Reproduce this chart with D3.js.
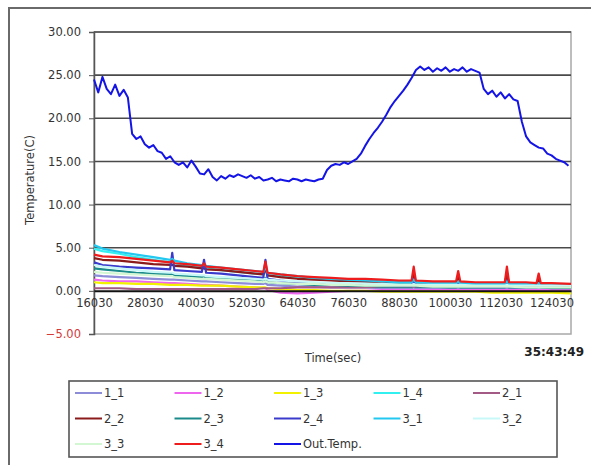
<!DOCTYPE html>
<html>
<head>
<meta charset="utf-8">
<script src="https://cdn.jsdelivr.net/npm/d3@7"></script>
<style>
  body { margin: 0; background: #fff; }
  svg { display: block; font-family: "DejaVu Sans", sans-serif; }
</style>
</head>
<body>
<div id="chart"></div>
<script>
// x tick labels (seconds)
const xTicks = [16030, 28030, 40030, 52030, 64030, 76030, 88030, 100030, 112030, 124030];
const yTicks = [-5, 0, 5, 10, 15, 20, 25, 30];
const totalTime = '35:43:49';

// outside temperature, sampled every 1000 s from 16030
const outTemp = [
  24.5, 23.0, 24.8, 23.4, 22.8, 23.9, 22.6, 23.3, 22.4, 18.2,
  17.6, 17.9, 17.0, 16.6, 16.9, 16.2, 16.0, 15.3, 15.6, 14.9,
  14.6, 14.9, 14.3, 15.1, 14.4, 13.6, 13.5, 14.1, 13.2, 12.8,
  13.3, 13.0, 13.4, 13.2, 13.5, 13.3, 13.1, 13.4, 13.0, 13.2,
  12.8, 12.9, 13.1, 12.7, 12.9, 12.8, 12.7, 13.0, 12.9, 12.7,
  12.9, 12.8, 12.7, 12.9, 13.0, 14.0, 14.5, 14.7, 14.6, 14.9,
  14.7, 15.0, 15.3, 15.9, 16.8, 17.6, 18.3, 18.9, 19.6, 20.4,
  21.3, 22.0, 22.6, 23.2, 23.9, 24.7, 25.6, 26.0, 25.6, 25.9,
  25.4, 25.8, 25.5, 25.9, 25.4, 25.7, 25.5, 25.9, 25.4, 25.7,
  25.5, 25.3, 23.4, 22.8, 23.2, 22.5, 23.0, 22.3, 22.8, 22.2,
  22.0, 19.6, 17.9, 17.2, 16.9, 16.6, 16.5, 15.9, 15.7, 15.3,
  15.1, 14.9, 14.5
];
const outStep = 1000;

// sampling times for the room sensors
const lowTime = [
  16030, 18030, 22030, 26030, 30030, 34000, 34500, 35000, 38030, 41500,
  42000, 42500, 46030, 50030, 54030, 56000, 56500, 57000, 60030, 64030,
  68030, 72030, 76030, 80030, 84030, 88030, 91000, 91500, 92000, 96030,
  100030, 101500, 102000, 102500, 106030, 110030, 113000, 113500, 114000, 118030,
  120500, 121000, 121500, 124030, 128630
];

const s1_1 = [1.8, 1.7, 1.6, 1.5, 1.4, 1.3, 1.3, 1.3, 1.2, 1.1, 1.1, 1.1, 1.0, 0.9, 0.8, 0.8, 0.9, 0.7, 0.6, 0.5, 0.5, 0.4, 0.4, 0.4, 0.3, 0.3, 0.3, 0.4, 0.3, 0.3, 0.3, 0.3, 0.3, 0.3, 0.3, 0.2, 0.2, 0.3, 0.2, 0.2, 0.2, 0.2, 0.2, 0.2, 0.2];
const s1_2 = [1.3, 1.2, 1.1, 1.1, 1.0, 0.9, 0.9, 0.9, 0.8, 0.7, 0.7, 0.7, 0.6, 0.5, 0.4, 0.3, 0.3, 0.1, -0.2, -0.3, -0.2, -0.1, 0.0, 0.0, 0.1, 0.1, 0.1, 0.1, 0.1, 0.1, 0.1, 0.1, 0.1, 0.1, 0.1, 0.1, 0.1, 0.1, 0.1, 0.1, 0.1, 0.1, 0.1, 0.1, 0.1];
const s1_3 = [1.0, 0.9, 0.9, 0.8, 0.8, 0.7, 0.7, 0.7, 0.7, 0.6, 0.6, 0.6, 0.6, 0.5, 0.4, 0.4, 0.4, 0.3, 0.2, 0.1, 0.1, 0.0, 0.0, 0.0, -0.1, -0.1, -0.1, -0.1, -0.1, -0.1, -0.1, -0.1, -0.1, -0.1, -0.1, -0.2, -0.2, -0.2, -0.2, -0.2, -0.2, -0.2, -0.2, -0.2, -0.3];
const s1_4 = [4.9, 4.6, 4.3, 3.9, 3.6, 3.3, 3.4, 3.2, 2.9, 2.7, 2.8, 2.6, 2.4, 2.2, 2.0, 1.9, 2.4, 1.8, 1.7, 1.5, 1.4, 1.3, 1.2, 1.1, 1.0, 0.9, 0.9, 1.2, 0.9, 0.8, 0.8, 0.8, 1.0, 0.8, 0.7, 0.7, 0.7, 1.0, 0.7, 0.7, 0.6, 0.8, 0.6, 0.6, 0.6];
const s2_1 = [0.3, 0.3, 0.3, 0.2, 0.2, 0.2, 0.2, 0.2, 0.2, 0.2, 0.2, 0.2, 0.2, 0.2, 0.2, 0.3, 0.3, 0.3, 0.3, 0.4, 0.4, 0.4, 0.4, 0.4, 0.5, 0.5, 0.5, 0.5, 0.5, 0.5, 0.5, 0.5, 0.5, 0.5, 0.5, 0.5, 0.5, 0.5, 0.5, 0.5, 0.5, 0.5, 0.5, 0.5, 0.5];
const s2_2 = [3.8, 3.6, 3.5, 3.3, 3.1, 3.0, 3.0, 2.9, 2.8, 2.6, 2.6, 2.5, 2.4, 2.2, 2.0, 1.9, 2.6, 1.8, 1.6, 1.4, 1.3, 1.2, 1.1, 1.1, 1.0, 1.0, 1.0, 2.0, 1.0, 0.9, 0.9, 0.9, 1.6, 0.9, 0.8, 0.8, 0.8, 2.0, 0.8, 0.8, 0.7, 1.3, 0.7, 0.7, 0.7];
const s2_3 = [2.6, 2.5, 2.3, 2.1, 2.0, 1.9, 2.0, 1.8, 1.7, 1.6, 1.7, 1.5, 1.4, 1.3, 1.2, 1.1, 1.5, 1.0, 0.9, 0.8, 0.7, 0.7, 0.6, 0.6, 0.5, 0.5, 0.5, 0.7, 0.5, 0.5, 0.4, 0.4, 0.6, 0.4, 0.4, 0.4, 0.4, 0.6, 0.4, 0.4, 0.4, 0.5, 0.4, 0.3, 0.3];
const s2_4 = [3.3, 3.0, 2.8, 2.7, 2.6, 2.5, 4.4, 2.4, 2.3, 2.2, 3.6, 2.1, 2.0, 1.8, 1.6, 1.5, 3.6, 1.4, 1.2, 1.0, 0.9, 0.8, 0.7, 0.7, 0.7, 0.6, 0.6, 1.4, 0.6, 0.6, 0.6, 0.6, 1.0, 0.6, 0.5, 0.5, 0.5, 1.2, 0.5, 0.5, 0.5, 0.8, 0.5, 0.5, 0.5];
const s3_1 = [5.3, 4.9, 4.5, 4.2, 3.9, 3.6, 3.7, 3.5, 3.2, 3.0, 3.1, 2.9, 2.7, 2.5, 2.3, 2.2, 2.8, 2.1, 1.9, 1.7, 1.5, 1.4, 1.3, 1.2, 1.1, 1.0, 1.0, 1.3, 1.0, 0.9, 0.9, 0.9, 1.1, 0.9, 0.8, 0.8, 0.8, 1.1, 0.8, 0.8, 0.7, 0.9, 0.7, 0.7, 0.7];
const s3_2 = [3.0, 2.8, 2.6, 2.4, 2.2, 2.1, 2.1, 2.0, 1.9, 1.8, 1.8, 1.7, 1.6, 1.5, 1.4, 1.3, 1.4, 1.3, 1.2, 1.1, 1.0, 0.9, 0.9, 0.8, 0.8, 0.7, 0.7, 0.8, 0.7, 0.7, 0.7, 0.7, 0.7, 0.7, 0.6, 0.6, 0.6, 0.7, 0.6, 0.6, 0.6, 0.6, 0.6, 0.6, 0.6];
const s3_3 = [2.2, 2.1, 2.0, 1.9, 1.8, 1.7, 1.7, 1.6, 1.5, 1.4, 1.4, 1.4, 1.3, 1.2, 1.1, 1.0, 1.1, 1.0, 0.9, 0.8, 0.8, 0.7, 0.7, 0.6, 0.6, 0.6, 0.6, 0.6, 0.6, 0.5, 0.5, 0.5, 0.5, 0.5, 0.5, 0.5, 0.5, 0.5, 0.5, 0.4, 0.4, 0.4, 0.4, 0.4, 0.4];
const s3_4 = [4.2, 4.0, 3.9, 3.7, 3.5, 3.3, 3.5, 3.2, 3.1, 2.9, 3.2, 2.8, 2.7, 2.5, 2.3, 2.2, 3.4, 2.1, 1.9, 1.7, 1.6, 1.5, 1.4, 1.4, 1.3, 1.2, 1.2, 2.8, 1.2, 1.1, 1.1, 1.1, 2.3, 1.1, 1.0, 1.0, 1.0, 2.8, 1.0, 1.0, 0.9, 2.0, 0.9, 0.9, 0.8];

const seriesNames = ['1_1', '1_2', '1_3', '1_4', '2_1', '2_2', '2_3', '2_4', '3_1', '3_2', '3_3', '3_4', 'Out.Temp.'];
const seriesColors = ['#8c8cd9', '#ee66ee', '#f2f200', '#33f0f0', '#a35a85', '#8b1a1a', '#1a8a8a', '#3a3acc',
  '#22c8f0', '#c8f8f8', '#d2f7d2', '#ee1c1c', '#1414e6'];

const outTime = outTemp.map((d, i) => 16030 + i * outStep);
const lowValues = [s1_1, s1_2, s1_3, s1_4, s2_1, s2_2, s2_3, s2_4, s3_1, s3_2, s3_3, s3_4];

const series = seriesNames.map((name, k) => {
  if (k === 12) {
    return { name, color: seriesColors[k], points: outTemp.map((v, i) => ({ t: outTime[i], v })) };
  }
  return { name, color: seriesColors[k], points: lowValues[k].map((v, i) => ({ t: lowTime[i], v })) };
});

const width = 591;
const height = 465;
const plot = { left: 94, right: 571, top: 32, bottom: 334 };

const svg = d3.select('#chart').append('svg')
  .attr('width', width)
  .attr('height', height);

// outer chart frame (cut by the picture on the right/bottom)
svg.append('path')
  .attr('d', `M9,${height} V8 H${width}`)
  .attr('fill', 'none')
  .attr('stroke', '#6a6a6a')
  .attr('stroke-width', 2);

const x = d3.scaleLinear().domain([16030, 128630]).range([plot.left, plot.right]);
const y = d3.scaleLinear().domain([-5, 30]).range([plot.bottom, plot.top]);

// plot area box
svg.append('rect')
  .attr('x', plot.left)
  .attr('y', plot.top)
  .attr('width', plot.right - plot.left)
  .attr('height', plot.bottom - plot.top)
  .attr('fill', '#fff')
  .attr('stroke', '#a8a8a8')
  .attr('stroke-width', 1.5);

// gridlines
svg.append('g')
  .selectAll('line')
  .data(yTicks.filter(d => d > 0))
  .join('line')
  .attr('x1', plot.left)
  .attr('x2', plot.right)
  .attr('y1', d => y(d))
  .attr('y2', d => y(d))
  .attr('stroke', '#4a4a4a')
  .attr('stroke-width', 1.6);

// y axis
const axisY = d3.axisLeft(y)
  .tickValues(yTicks)
  .tickFormat(d3.format('.2f'))
  .tickSize(5)
  .tickPadding(8);

const gy = svg.append('g')
  .attr('transform', `translate(${plot.left},0)`)
  .call(axisY);
gy.select('.domain').attr('stroke', '#555').attr('stroke-width', 1.5);
gy.selectAll('.tick line').attr('stroke', '#555');
gy.selectAll('.tick text')
  .attr('font-size', 11.5)
  .attr('font-family', 'DejaVu Sans, sans-serif')
  .attr('fill', d => d < 0 ? '#d43a3a' : '#333');

// lines
const line = d3.line()
  .x(d => x(d.t))
  .y(d => y(d.v));

svg.append('g')
  .selectAll('path')
  .data(series)
  .join('path')
  .attr('fill', 'none')
  .attr('stroke', d => d.color)
  .attr('stroke-width', d => d.name === 'Out.Temp.' ? 2 : 2.2)
  .attr('stroke-linejoin', 'round')
  .attr('d', d => line(d.points));

// x axis crossing at 0
const axisX = d3.axisBottom(x)
  .tickValues(xTicks)
  .tickFormat(d3.format('d'))
  .tickSize(0)
  .tickPadding(16);

const gx = svg.append('g')
  .attr('transform', `translate(0,${y(0)})`)
  .call(axisX);
gx.select('.domain').attr('stroke', '#111').attr('stroke-width', 2);
gx.selectAll('.tick text')
  .attr('font-size', 11.5)
  .attr('font-family', 'DejaVu Sans, sans-serif')
  .attr('fill', '#333')
  .attr('dy', '0');

// titles
svg.append('text')
  .attr('transform', 'translate(34,180) rotate(-90)')
  .attr('text-anchor', 'middle')
  .attr('font-size', 11.5)
  .attr('fill', '#333')
  .text('Temperature(C)');

svg.append('text')
  .attr('x', 333)
  .attr('y', 362)
  .attr('text-anchor', 'middle')
  .attr('font-size', 11.5)
  .attr('fill', '#333')
  .text('Time(sec)');

svg.append('text')
  .attr('x', 584)
  .attr('y', 356)
  .attr('text-anchor', 'end')
  .attr('font-size', 12)
  .attr('font-weight', 'bold')
  .attr('fill', '#222')
  .text(totalTime);

// legend
const legend = svg.append('g');
legend.append('rect')
  .attr('x', 69)
  .attr('y', 381)
  .attr('width', 488)
  .attr('height', 76)
  .attr('fill', '#fff')
  .attr('stroke', '#555')
  .attr('stroke-width', 1.6);

const item = legend.selectAll('g.item')
  .data(series)
  .join('g')
  .attr('class', 'item')
  .attr('transform', (d, i) => `translate(${75 + (i % 5) * 99.5},${393 + Math.floor(i / 5) * 25.5})`);

item.append('line')
  .attr('x1', 0)
  .attr('x2', 27)
  .attr('stroke', d => d.color)
  .attr('stroke-width', 2);

item.append('text')
  .attr('x', 29)
  .attr('dy', '0.35em')
  .attr('font-size', 11.5)
  .attr('fill', '#333')
  .text(d => d.name);
</script>
</body>
</html>
